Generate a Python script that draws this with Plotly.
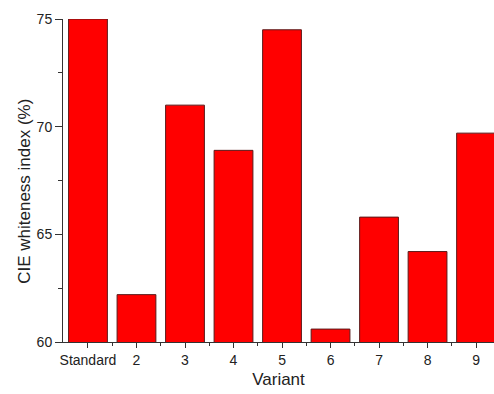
import plotly.graph_objects as go

categories = ["Standard", "2", "3", "4", "5", "6", "7", "8", "9"]
values = [75.0, 62.2, 71.0, 68.9, 74.5, 60.6, 65.8, 64.2, 69.7]
y_ticks = [60, 65, 70, 75]

positions = list(range(len(categories)))

fig = go.Figure(go.Bar(
    x=positions, y=values, width=0.8,
    marker=dict(color="#ff0000", line=dict(color="#5a1a1a", width=1)),
))

fig.update_layout(
    width=494, height=394,
    margin=dict(l=63, r=0, t=19, b=52),
    plot_bgcolor="white", paper_bgcolor="white",
    font=dict(family="Liberation Sans, Arial", color="#222", size=14),
    showlegend=False,
    annotations=[dict(
        text="CIE whiteness index (%)", textangle=-90,
        xref="paper", yref="paper", x=0, y=0.465,
        xanchor="center", yanchor="middle", xshift=-38,
        showarrow=False, font=dict(size=17, color="#222"),
    )],
)
fig.update_xaxes(
    range=[-0.515, 8.37],
    tickmode="array", tickvals=positions, ticktext=categories,
    ticks="outside", ticklen=5, tickcolor="#333",
    showline=True, linecolor="#333", linewidth=1,
    showgrid=False, zeroline=False,
    minor=dict(tickmode="array", tickvals=[p + 0.5 for p in positions], ticks="outside", ticklen=3, tickcolor="#333", showgrid=False),
    title=dict(text="Variant", font=dict(size=17), standoff=6),
    tickfont=dict(size=14),
)
fig.update_yaxes(
    range=[60, 75],
    tickmode="array", tickvals=y_ticks,
    ticks="outside", ticklen=7, tickcolor="#333",
    showline=True, linecolor="#333", linewidth=1,
    showgrid=False, zeroline=False,
    minor=dict(tickmode="array", tickvals=[62.5, 67.5, 72.5], ticks="outside", ticklen=4, tickcolor="#333", showgrid=False),
    tickfont=dict(size=14),
)

fig.write_html("out.html")
